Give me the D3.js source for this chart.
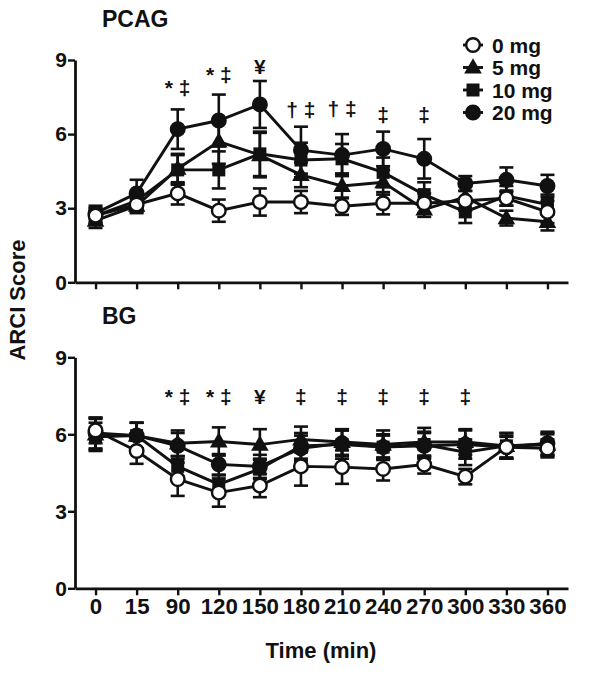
<!DOCTYPE html>
<html><head><meta charset="utf-8">
<script src="https://cdn.jsdelivr.net/npm/d3@7"></script>
<style>body{margin:0;background:#fff}svg text{font-family:"Liberation Sans",Arial,sans-serif;font-weight:bold;fill:#111}</style>
</head><body><svg id="c" width="598" height="676"></svg>
<script>
const times = ["0","15","90","120","150","180","210","240","270","300","330","360"];
const doses = ["0 mg","5 mg","10 mg","20 mg"];
const yTicks = [0,3,6,9];

const pcag0 = [2.7,3.15,3.6,2.9,3.25,3.25,3.08,3.2,3.2,3.3,3.4,2.85];
const pcag5 = [2.5,3.1,4.6,5.7,5.15,4.35,3.9,4.05,2.95,3.45,2.6,2.45];
const pcag10 = [2.7,3.3,4.55,4.55,5.2,4.95,5.0,4.45,3.55,2.85,3.5,3.15];
const pcag20 = [2.8,3.6,6.2,6.55,7.2,5.35,5.15,5.4,5.0,4.0,4.15,3.9];
const pcagErr0 = [0.3,0.3,0.45,0.45,0.55,0.45,0.35,0.45,0.4,0.4,0.3,0.45];
const pcagErr5 = [0.3,0.3,0.6,0.9,0.9,0.5,0.5,0.5,0.3,0.45,0.3,0.35];
const pcagErr10 = [0.3,0.35,0.6,0.75,0.9,0.7,0.6,0.6,0.5,0.45,0.4,0.4];
const pcagErr20 = [0.3,0.55,0.8,1.05,0.95,0.95,0.85,0.7,0.8,0.3,0.5,0.45];

const bg0 = [6.15,5.35,4.25,3.73,4.0,4.75,4.72,4.65,4.82,4.35,5.5,5.45];
const bg5 = [6.0,5.95,5.65,5.72,5.6,5.8,5.7,5.6,5.7,5.7,5.55,5.6];
const bg10 = [5.9,5.95,4.75,4.05,4.65,5.55,5.6,5.5,5.6,5.3,5.55,5.6];
const bg20 = [6.05,5.95,5.55,4.83,4.75,5.45,5.65,5.5,5.55,5.6,5.5,5.65];
const bgErr0 = [0.5,0.5,0.65,0.55,0.45,0.75,0.65,0.45,0.35,0.3,0.4,0.35];
const bgErr5 = [0.6,0.5,0.5,0.55,0.6,0.5,0.5,0.55,0.55,0.5,0.5,0.4];
const bgErr10 = [0.55,0.5,0.4,0.35,0.4,0.5,0.55,0.45,0.5,0.5,0.5,0.45];
const bgErr20 = [0.6,0.5,0.5,0.4,0.45,0.5,0.5,0.5,0.5,0.55,0.45,0.45];

const sigTop = ["","","* ‡","* ‡","¥","† ‡","† ‡","‡","‡","","",""];
const sigTopLevel = [0,0,7.9,8.45,8.75,7.0,7.05,6.8,6.8,0,0,0];
const sigBottom = ["","","* ‡","* ‡","¥","‡","‡","‡","‡","‡","",""];
const sigBottomLevel = [0,0,7.5,7.5,7.5,7.5,7.5,7.5,7.5,7.5,0,0];

const svg = d3.select("#c");
const x = d3.scalePoint().domain(times).range([75,568]).padding(0.5);
const symTypes = ["circle","triangle","square","circle"];
const fills = ["#fff","#111","#111","#111"];
const FONT = "Liberation Sans, Arial";

function marker(g, type, fill, cx, cy){
  if(type==="circle") g.append("circle").attr("cx",cx).attr("cy",cy).attr("r",6.8).attr("fill",fill).attr("stroke","#111").attr("stroke-width",2.4);
  else if(type==="square") g.append("rect").attr("x",cx-6.5).attr("y",cy-6.5).attr("width",13).attr("height",13).attr("fill",fill);
  else g.append("path").attr("d",d3.symbol(d3.symbolTriangle,135)()).attr("transform",`translate(${cx},${cy+1})`).attr("fill",fill);
}

function panel(title, yTop, yBot, series, errs, sig, sigLevel, showX){
  const y = d3.scaleLinear().domain([0,9]).range([yBot,yTop]);
  const g = svg.append("g");
  g.append("text").attr("x",102).attr("y",yTop-33).attr("font-size",23).text(title);
  const ya = g.append("g").attr("transform","translate(75,0)")
    .call(d3.axisLeft(y).tickValues(yTicks).tickSize(7).tickSizeOuter(0));
  ya.select(".domain").attr("stroke","#111").attr("stroke-width",2.8);
  ya.selectAll(".tick line").attr("stroke","#111").attr("stroke-width",2.4);
  ya.selectAll(".tick text").attr("font-size",21).attr("x",-8).attr("fill","#111").attr("font-family",FONT).attr("font-weight","bold");
  const xa = g.append("g").attr("transform",`translate(0,${yBot})`)
    .call(d3.axisBottom(x).tickSize(7).tickSizeOuter(0).tickFormat(showX?(d=>d):(()=>"")));
  xa.select(".domain").attr("stroke","#111").attr("stroke-width",2.8);
  xa.selectAll(".tick line").attr("stroke","#111").attr("stroke-width",2.4);
  xa.selectAll(".tick text").attr("font-size",22).attr("y",10).attr("fill","#111").attr("font-family",FONT).attr("font-weight","bold").attr("textLength",d=>d.length*12.4).attr("lengthAdjust","spacingAndGlyphs");

  const order = [3,2,1,0];
  order.forEach(si=>{
    const vals = series[si], er = errs[si];
    const sg = g.append("g");
    vals.forEach((v,i)=>{
      const cx = x(times[i]);
      sg.append("line").attr("x1",cx).attr("x2",cx).attr("y1",y(v-er[i])).attr("y2",y(v+er[i])).attr("stroke","#111").attr("stroke-width",2.6);
      [v-er[i],v+er[i]].forEach(e=>sg.append("line").attr("x1",cx-7).attr("x2",cx+7).attr("y1",y(e)).attr("y2",y(e)).attr("stroke","#111").attr("stroke-width",2.6));
    });
    sg.append("path").datum(vals).attr("fill","none").attr("stroke","#111").attr("stroke-width",2.9)
      .attr("d",d3.line().x((d,i)=>x(times[i])).y(d=>y(d)));
    vals.forEach((v,i)=>marker(sg,symTypes[si],fills[si],x(times[i]),y(v)));
  });
  sig.forEach((s,i)=>{ if(s) g.append("text").attr("x",x(times[i])).attr("y",y(sigLevel[i])).attr("dy","0.38em").attr("text-anchor","middle").attr("font-size",21).text(s); });
}

panel("PCAG",60,282.3,[pcag0,pcag5,pcag10,pcag20],[pcagErr0,pcagErr5,pcagErr10,pcagErr20],sigTop,sigTopLevel,false);
panel("BG",357.3,588.3,[bg0,bg5,bg10,bg20],[bgErr0,bgErr5,bgErr10,bgErr20],sigBottom,sigBottomLevel,true);

// legend
const lg = svg.append("g");
doses.forEach((d,i)=>{
  const ly = 45 + i*22.5;
  lg.append("line").attr("x1",463).attr("x2",483).attr("y1",ly).attr("y2",ly).attr("stroke","#111").attr("stroke-width",2.9);
  marker(lg,symTypes[i],fills[i],473,ly);
  lg.append("text").attr("x",492).attr("y",ly).attr("dy","0.36em").attr("font-size",21).text(d);
});

svg.append("text").attr("x",321).attr("y",658).attr("text-anchor","middle").attr("font-size",22).text("Time (min)");
svg.append("text").attr("transform","translate(25,300) rotate(-90)").attr("text-anchor","middle").attr("font-size",22).text("ARCI Score");
</script></body></html>
